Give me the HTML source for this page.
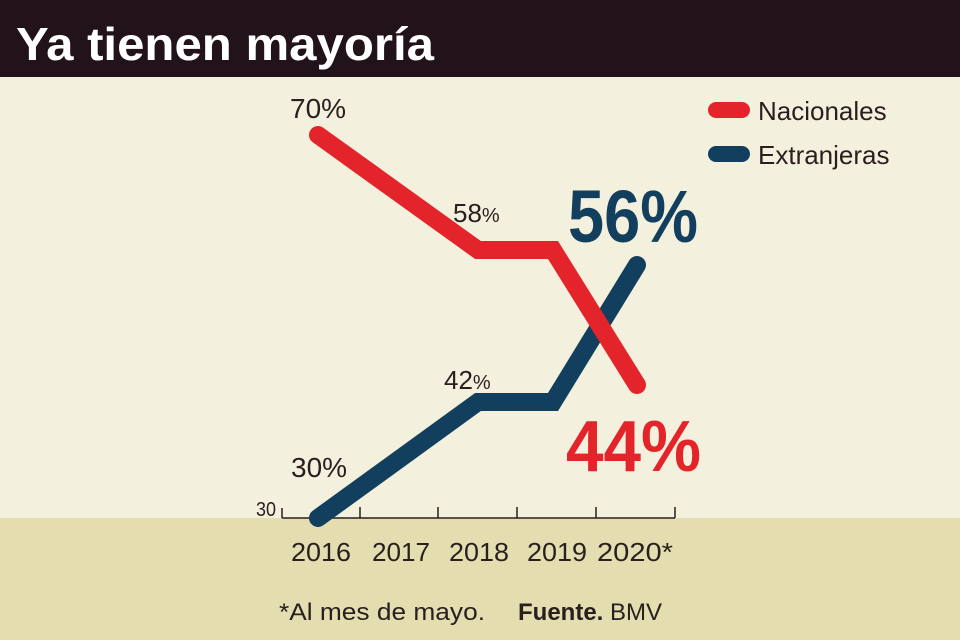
<!DOCTYPE html>
<html><head><meta charset="utf-8"><style>
html,body{margin:0;padding:0;width:960px;height:640px;overflow:hidden;background:#f4f0de}
svg{display:block}
</style></head><body>
<svg width="960" height="640" viewBox="0 0 960 640" xmlns="http://www.w3.org/2000/svg" font-family="Liberation Sans, sans-serif">
<rect x="0" y="0" width="960" height="640" fill="#f4f0de"/>
<rect x="0" y="0" width="960" height="77" fill="#22121a"/>
<rect x="0" y="518" width="960" height="122" fill="#e3ddb0"/>
<text x="16" y="60" font-size="46" font-weight="bold" fill="#fff" textLength="418" lengthAdjust="spacingAndGlyphs">Ya tienen mayoría</text>
<!-- axis -->
<g stroke="#2a1e1e" stroke-width="1.5" fill="none">
<line x1="282" y1="518" x2="675" y2="518"/>
<line x1="282" y1="518" x2="282" y2="508"/>
<line x1="360" y1="518" x2="360" y2="507"/>
<line x1="438" y1="518" x2="438" y2="507"/>
<line x1="517" y1="518" x2="517" y2="507"/>
<line x1="596" y1="518" x2="596" y2="507"/>
<line x1="675" y1="518" x2="675" y2="507"/>
</g>
<text x="256" y="516" font-size="20" fill="#2a1e1e" textLength="20" lengthAdjust="spacingAndGlyphs">30</text>
<!-- lines -->
<polyline points="318,518 478,402 553,402 637,265" fill="none" stroke="#123f5e" stroke-width="18" stroke-linecap="round" stroke-linejoin="miter"/>
<polyline points="318,135 478,250 553,250 637,385" fill="none" stroke="#e3242b" stroke-width="18" stroke-linecap="round" stroke-linejoin="miter"/>
<!-- legend -->
<line x1="716" y1="110" x2="742" y2="110" stroke="#e3242b" stroke-width="16" stroke-linecap="round"/>
<line x1="716" y1="154" x2="742" y2="154" stroke="#123f5e" stroke-width="16" stroke-linecap="round"/>
<text x="758" y="120" font-size="26" fill="#2a1e1e">Nacionales</text>
<text x="758" y="164" font-size="26" fill="#2a1e1e">Extranjeras</text>
<!-- labels -->
<text x="290" y="118" font-size="28" fill="#2a1e1e">70%</text>
<text x="453" y="222" font-size="26" fill="#2a1e1e">58<tspan font-size="20">%</tspan></text>
<text x="444" y="389" font-size="26" fill="#2a1e1e">42<tspan font-size="20">%</tspan></text>
<text x="291" y="477" font-size="28" fill="#2a1e1e">30%</text>
<text x="568" y="242" font-size="74" font-weight="bold" fill="#123f5e" textLength="130" lengthAdjust="spacingAndGlyphs">56%</text>
<text x="566" y="471" font-size="72" font-weight="bold" fill="#e3242b" textLength="135" lengthAdjust="spacingAndGlyphs">44%</text>
<!-- years -->
<g font-size="26" fill="#2a1e1e">
<text x="291" y="561" textLength="60" lengthAdjust="spacingAndGlyphs">2016</text>
<text x="372" y="561" textLength="58" lengthAdjust="spacingAndGlyphs">2017</text>
<text x="449" y="561" textLength="60" lengthAdjust="spacingAndGlyphs">2018</text>
<text x="527" y="561" textLength="60" lengthAdjust="spacingAndGlyphs">2019</text>
<text x="597" y="561" textLength="76" lengthAdjust="spacingAndGlyphs">2020*</text>
</g>
<text x="279" y="620" font-size="24" fill="#2a1e1e" textLength="206" lengthAdjust="spacingAndGlyphs">*Al mes de mayo.</text>
<text x="518" y="620" font-size="24" fill="#2a1e1e"><tspan font-weight="bold">Fuente.</tspan> BMV</text>
</svg>
</body></html>
